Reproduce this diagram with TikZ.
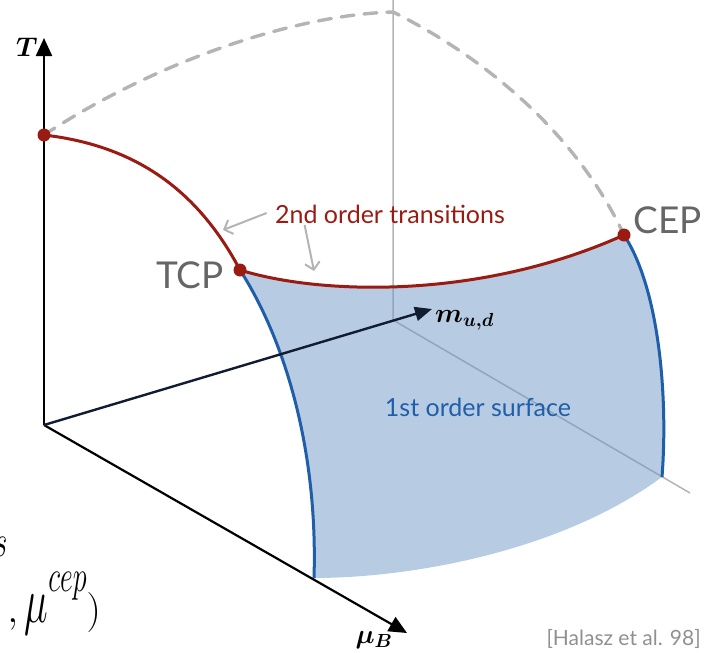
\RequirePackage{fix-cm}
\documentclass[tikz,border=0pt]{standalone}
\usepackage{amsmath,bm,graphicx}
\usepackage[no-math]{fontspec}
\newfontfamily\lato{Lato}
\usetikzlibrary{arrows.meta}
\definecolor{dred}{HTML}{9A1B12}
\definecolor{edgeblue}{HTML}{1F5EA8}
\definecolor{surfblue}{HTML}{6F99C7}
\definecolor{lgray}{HTML}{B4B4B4}
\definecolor{tgray}{HTML}{666666}
\definecolor{navy}{HTML}{111C30}
\newcommand{\tallmath}[1]{\scalebox{1}[1.6]{$#1$}}
\begin{document}
\begin{tikzpicture}[x=1pt,y=-1pt,
  axis/.style={line width=2.2pt,-{Triangle[length=18pt,width=16pt]}},
  marrow/.style={navy,line width=2.4pt,-{Triangle[length=17pt,width=14pt]}},
  guide/.style={lgray,line width=1.5pt},
  dashgray/.style={lgray,line width=3.4pt,dash pattern=on 13pt off 10pt,line cap=round},
  redline/.style={dred,line width=3pt},
  blueedge/.style={edgeblue,line width=3pt},
  dot/.style={circle,fill=dred,inner sep=0pt,minimum size=13pt},
  garrow/.style={lgray,line width=2pt,-{Straight Barb[length=7pt,width=15pt]}},
  lbl/.style={font=\lato\fontsize{25}{28}\selectfont},
  big/.style={font=\lato\fontsize{37}{42}\selectfont,text=tgray},
  mathlbl/.style={font=\fontsize{27}{30}\selectfont,inner sep=0pt}]
\useasboundingbox (0,0) rectangle (704,653);
\clip (0,0) rectangle (704,653);
\coordinate (O) at (44,425);
\coordinate (Ttip) at (44,38);
\coordinate (Btip) at (407,633);
\coordinate (Mtip) at (432,309);
\coordinate (C) at (393,320);
\coordinate (Top) at (393,0);
\coordinate (Far) at (690,493);
\coordinate (Peak) at (393,12);
\coordinate (A) at (44,135);
\coordinate (TCP) at (240,270);
\coordinate (CEP) at (624,235);
\coordinate (BL) at (314,578);
\coordinate (BR) at (662,477);
% back guide lines
\draw[guide] (Top) -- (C) -- (Far);
% first order surface
\fill[surfblue,opacity=.5] (TCP) .. controls (285,340) and (318,450) .. (BL)
  .. controls (410,578) and (560,552) .. (BR)
  .. controls (668,400) and (660,290) .. (CEP)
  .. controls (480,300) and (320,295) .. (TCP);
\draw[blueedge] (TCP) .. controls (285,340) and (318,450) .. (BL);
\draw[blueedge] (CEP) .. controls (660,290) and (668,400) .. (BR);
% axes
\draw[axis] (O) -- (Ttip);
\draw[axis] (O) -- (Btip);
\draw[marrow] (O) -- (Mtip);
% dashed boundary
\draw[dashgray] (A) .. controls (150,65) and (290,15) .. (Peak)
  .. controls (480,55) and (575,130) .. (CEP);
% second order lines
\draw[redline] (A) .. controls (130,145) and (195,185) .. (TCP)
  .. controls (320,295) and (480,300) .. (CEP);
\node[dot] (dA) at (A) {};
\node[dot] (dTCP) at (TCP) {};
\node[dot] (dCEP) at (CEP) {};
% labels
\node[lbl,text=dred] (lab2) at (390,214) {2nd order transitions};
\coordinate (p1) at (223,230);
\coordinate (p2) at (314,271);
\draw[garrow] ([xshift=-5pt,yshift=1pt]lab2.west) -- (p1);
\draw[garrow] ([xshift=33pt,yshift=2pt]lab2.south west) -- (p2);
\node[big] (tcpl) at (190,275) {TCP};
\node[big] (cepl) at (668,220) {CEP};
\node[lbl,text=edgeblue] (lab1) at (478,407) {1st order surface};
\node[font=\lato\fontsize{21}{24}\selectfont,text=lgray!80!black,anchor=west] (ref) at (543,639) {[Halasz et al. 98]};
\node[mathlbl] (Tl) at (27,47) {$\bm{T}$};
\node[mathlbl] (Bl) at (374,640) {$\bm{\mu_B}$};
\node[mathlbl,anchor=west] (Ml) at (435,320) {$\bm{m_{u,d}}$};
\node[font=\fontsize{40}{44}\selectfont,anchor=base east,inner sep=0pt] (form) at (101,622)
  {$(\tallmath{\mu}\raisebox{66pt}{\tallmath{\scriptstyle s}},\tallmath{\mu}\raisebox{31pt}{\tallmath{\scriptstyle cep}})$};
\end{tikzpicture}
\end{document}
